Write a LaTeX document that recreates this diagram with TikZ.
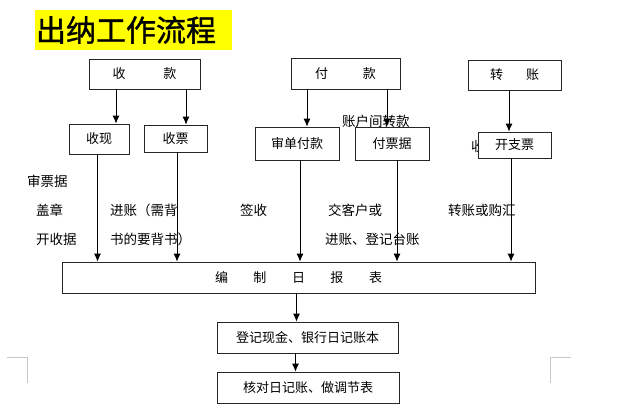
\documentclass[tikz,border=0pt]{standalone}
\usepackage{fontspec}
\setmainfont{Noto Sans CJK SC}
\newfontfamily\titlefont[FakeBold=1.2]{Noto Sans CJK SC}
\usepackage{xcolor}
\usetikzlibrary{arrows.meta}

\definecolor{titlebg}{RGB}{255,255,0}
\definecolor{markgray}{RGB}{200,200,200}

\begin{document}
\begin{tikzpicture}[
	x=1pt, y=-1pt,
	box/.style={
		draw=black!85, line width=0.8pt, rectangle, fill=white,
		font=\fontsize{13pt}{15pt}\selectfont, align=center, inner sep=2pt
	},
	lbl/.style={
		anchor=west, inner sep=0pt,
		font=\fontsize{13.5pt}{15pt}\selectfont
	},
	title/.style={
		fill=titlebg, minimum width=197pt, minimum height=40pt,
		inner xsep=1pt, text width=195pt, align=left,
		font=\titlefont\fontsize{30pt}{32pt}\selectfont
	},
	arr/.style={-{Latex[length=8pt,width=7pt]}, line width=0.8pt},
	]
	\useasboundingbox (0,0) rectangle (640,412);

	% Title
	\node[title] (ttl) at (133.5, 30) {出纳工作流程};

	% Labels that sit behind boxes
	\node[lbl] (jzlb)  at (342, 121) {账户间转款};
	\node[lbl] (shlb)  at (471, 146) {收};

	% Top row
	\node[box, minimum width=111pt, minimum height=30pt] (sk) at (144.5, 74) {收\hspace{38pt}款};
	\node[box, minimum width=109pt, minimum height=31pt] (fk) at (345.5, 73.5) {付\hspace{35pt}款};
	\node[box, minimum width=93pt, minimum height=30pt]  (zz) at (514.5, 75) {转\hspace{23pt}账};

	% Second row
	\node[box, minimum width=60pt, minimum height=30pt] (sx) at (99, 139)    {收现};
	\node[box, minimum width=63pt, minimum height=27pt] (sp) at (175.5, 138.5) {收票};
	\node[box, minimum width=84pt, minimum height=33pt] (sd) at (297, 143.5) {审单付款};
	\node[box, minimum width=74pt, minimum height=33pt] (fp) at (392, 143.5) {付票据};
	\node[box, minimum width=73pt, minimum height=26pt] (kz) at (514.5, 145) {开支票};

	% Step notes
	\node[lbl] (spj)  at (27, 181)  {审票据};
	\node[lbl] (gz)   at (36, 210)  {盖章};
	\node[lbl] (ksj)  at (36, 239)  {开收据};
	\node[lbl] (jz1)  at (110, 210) {进账（需背};
	\node[lbl] (jz2)  at (110, 239) {书的要背书）};
	\node[lbl] (qs)   at (240, 210) {签收};
	\node[lbl] (jkh)  at (328, 210) {交客户或};
	\node[lbl] (djtz) at (325, 239) {进账、登记台账};
	\node[lbl] (zzgh) at (448, 210) {转账或购汇};

	% Daily report and books
	\node[box, minimum width=473pt, minimum height=31pt] (bz) at (298.5, 277.5)
	{编\hspace{25.5pt}制\hspace{25.5pt}日\hspace{25.5pt}报\hspace{25.5pt}表};
	\node[box, minimum width=181pt, minimum height=31pt] (dj) at (307.5, 337.5) {登记现金、银行日记账本};
	\node[box, minimum width=182pt, minimum height=31pt] (hd) at (308, 387.5)   {核对日记账、做调节表};

	% Top row -> second row
	\draw[arr] ([xshift=17pt]sx.north |- sk.south)   -- ([xshift=17pt]sx.north);
	\draw[arr] ([xshift=10.5pt]sp.north |- sk.south) -- ([xshift=10.5pt]sp.north);
	\draw[arr] ([xshift=10pt]sd.north |- fk.south)   -- ([xshift=10pt]sd.north);
	\draw[arr] ([xshift=-5pt]fp.north |- fk.south)   -- ([xshift=-5pt]fp.north);
	\draw[arr] ([xshift=-5.5pt]kz.north |- zz.south) -- ([xshift=-5.5pt]kz.north);

	% Second row -> report
	\draw[arr] ([xshift=-1.5pt]sx.south) -- ([xshift=-1.5pt]sx.south |- bz.north);
	\draw[arr] ([xshift=1.5pt]sp.south)  -- ([xshift=1.5pt]sp.south |- bz.north);
	\draw[arr] ([xshift=3pt]sd.south)    -- ([xshift=3pt]sd.south |- bz.north);
	\draw[arr] ([xshift=5pt]fp.south)    -- ([xshift=5pt]fp.south |- bz.north);
	\draw[arr] ([xshift=-3.5pt]kz.south) -- ([xshift=-3.5pt]kz.south |- bz.north);

	% Report -> books
	\draw[arr] ([xshift=-11pt]dj.north |- bz.south) -- ([xshift=-11pt]dj.north);
	\draw[arr] ([xshift=-12.5pt]hd.north |- dj.south) -- ([xshift=-12.5pt]hd.north);

	% Page corner marks
	\draw[markgray, line width=0.8pt] (7, 357) -- (27, 357) -- (27, 383);
	\draw[markgray, line width=0.8pt] (571, 357) -- (550, 357) -- (550, 383);

\end{tikzpicture}
\end{document}
